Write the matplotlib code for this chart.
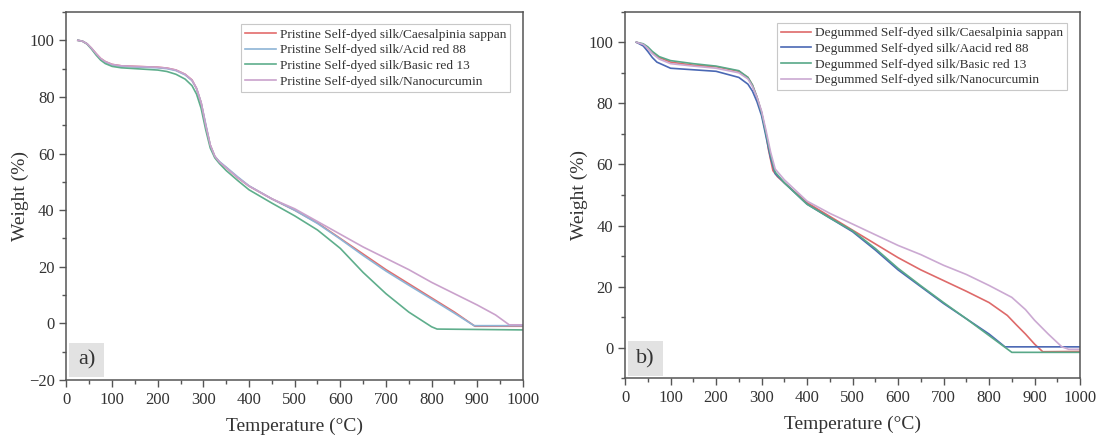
import matplotlib

matplotlib.use("Agg")
import matplotlib.pyplot as plt
from matplotlib.patches import Rectangle
from matplotlib.ticker import MultipleLocator

plt.rcParams["font.family"] = ["Liberation Serif", "DejaVu Serif"]

# ---- panel a) pristine self-dyed silk ----
a_labels = [
    "Pristine Self-dyed silk/Caesalpinia sappan",
    "Pristine Self-dyed silk/Acid red 88",
    "Pristine Self-dyed silk/Basic red 13",
    "Pristine Self-dyed silk/Nanocurcumin",
]
a_colors = ["#e36c6c", "#8db4d6", "#5fae8c", "#caa2cc"]

a_sappan_t = [25, 35, 45, 55, 65, 75, 85, 100, 120, 150, 200, 220, 240, 260, 275, 285, 295, 305, 315, 325, 335,
              350, 375, 400, 450, 500, 550, 600, 650, 700, 750, 800, 850, 895, 1000]
a_sappan_w = [100, 99.7, 98.8, 97.2, 95.3, 93.6, 92.5, 91.5, 91, 90.8, 90.5, 90.2, 89.5, 88, 86, 83, 78, 70, 63,
              59, 57, 55, 51.5, 48.5, 44, 40, 35.5, 30, 24.5, 19, 14, 9, 4, -1, -1]

a_acid_t = [25, 35, 45, 55, 65, 75, 85, 100, 120, 150, 200, 220, 240, 260, 275, 285, 295, 305, 315, 325, 335,
            350, 375, 400, 450, 500, 550, 600, 650, 700, 750, 800, 850, 893, 1000]
a_acid_w = [100, 99.7, 98.8, 97.1, 95.1, 93.4, 92.2, 91.3, 90.8, 90.6, 90.3, 90, 89.3, 87.8, 85.8, 83, 78, 70.5,
            63, 59, 57.2, 55.2, 51.8, 48.6, 44, 40, 35.3, 29.8, 24, 18.5, 13.5, 8.6, 3.6, -0.8, -0.8]

a_basic_t = [25, 35, 45, 55, 65, 75, 85, 100, 120, 150, 200, 220, 240, 260, 275, 285, 295, 305, 315, 325, 335,
             350, 375, 400, 450, 500, 550, 600, 650, 700, 750, 800, 812, 1000]
a_basic_w = [100, 99.7, 98.7, 96.9, 94.8, 93, 91.8, 90.8, 90.3, 90, 89.5, 89, 88, 86.3, 84, 81, 76, 68.5, 62,
             58.5, 56.5, 54, 50.5, 47.2, 42.5, 38, 33, 26.5, 18, 10.5, 4, -1.2, -2, -2.3]

a_nano_t = [25, 35, 45, 55, 65, 75, 85, 100, 120, 150, 200, 220, 240, 260, 275, 285, 295, 305, 315, 325, 335,
            350, 375, 400, 450, 500, 550, 600, 650, 700, 750, 800, 850, 900, 940, 970, 1000]
a_nano_w = [100, 99.7, 98.8, 97.2, 95.3, 93.6, 92.5, 91.5, 91, 90.8, 90.5, 90.2, 89.5, 88, 86, 83, 78, 70, 63,
            59, 57, 55, 51.5, 48.5, 44, 40.5, 36, 31.5, 27, 23, 19, 14.5, 10.5, 6.5, 3, -0.5, -0.5]

# ---- panel b) degummed self-dyed silk ----
b_labels = [
    "Degummed Self-dyed silk/Caesalpinia sappan",
    "Degummed Self-dyed silk/Aacid red 88",
    "Degummed Self-dyed silk/Basic red 13",
    "Degummed Self-dyed silk/Nanocurcumin",
]
b_colors = ["#de6a6a", "#4a68b4", "#58a888", "#cba9d2"]

b_sappan_t = [25, 40, 50, 60, 75, 100, 150, 200, 250, 270, 280, 290, 300, 310, 315, 325, 335, 350, 400, 450, 500,
              550, 600, 650, 700, 750, 800, 840, 860, 880, 900, 918, 1000]
b_sappan_w = [100, 99.3, 98, 96.5, 95, 93.5, 92.5, 92, 90.5, 88.5, 86, 82, 77, 70, 65, 58, 56, 54, 47.5, 43, 38.5,
              34, 29.5, 25.5, 22, 18.5, 14.8, 10.6, 7.5, 4.5, 1.2, -1.3, -1.2]

b_acid_t = [25, 40, 50, 60, 70, 100, 150, 200, 250, 270, 280, 290, 300, 310, 320, 330, 350, 400, 450, 500,
            550, 600, 650, 700, 750, 800, 835, 1000]
b_acid_w = [100, 98.8, 97, 95, 93.5, 91.5, 91, 90.5, 88.5, 86.3, 84, 80.5, 76, 69, 62, 57, 54, 47, 42.5, 38,
            32, 25.5, 20, 14.5, 9.5, 4.5, 0.3, 0.3]

b_basic_t = [25, 40, 50, 60, 75, 100, 150, 200, 250, 270, 280, 290, 300, 310, 320, 330, 350, 400, 450, 500,
             550, 600, 650, 700, 750, 800, 850, 1000]
b_basic_w = [100, 99.5, 98.5, 97, 95.3, 94, 93, 92.2, 90.7, 88.5, 86, 82, 77, 70, 63, 57.5, 54, 47, 42.5, 38.3,
             32.5, 26, 20.3, 14.8, 9.5, 4, -1.5, -1.5]

b_nano_t = [25, 40, 50, 60, 75, 100, 150, 200, 250, 270, 280, 290, 300, 310, 320, 330, 350, 400, 450, 500,
            550, 600, 650, 700, 750, 800, 850, 880, 900, 930, 960, 975, 1000]
b_nano_w = [100, 99.3, 98, 96.3, 94.5, 93, 92.2, 91.5, 90, 88, 85.5, 82, 77.5, 71, 64, 58.5, 55, 48, 44, 40.5,
            37, 33.5, 30.5, 27, 24, 20.4, 16.5, 12.5, 9, 4.5, 0.3, -0.5, -0.5]


def style_axes(ax, ylim, yminor):
    ax.set_xlim(0, 1000)
    ax.set_ylim(*ylim)
    ax.xaxis.set_major_locator(MultipleLocator(100))
    ax.xaxis.set_minor_locator(MultipleLocator(50))
    ax.yaxis.set_major_locator(MultipleLocator(20))
    ax.yaxis.set_minor_locator(MultipleLocator(yminor))
    for spine in ax.spines.values():
        spine.set_color("#555555")
        spine.set_linewidth(1.1)
    ax.tick_params(which="both", direction="out", color="#555555", labelcolor="#333333",
                   labelsize=12, top=False, right=False)
    ax.tick_params(which="major", length=5, width=1)
    ax.tick_params(which="minor", length=3, width=1)
    ax.set_xlabel("Temperature (°C)", fontsize=14, color="#333333", labelpad=7)
    ax.set_ylabel("Weight (%)", fontsize=14, color="#333333", labelpad=0)


def panel_tag(ax, text, x0, x1, y0, y1):
    ax.add_patch(Rectangle((x0, y0), x1 - x0, y1 - y0, transform=ax.transAxes,
                           facecolor="#e2e2e2", edgecolor="none", zorder=1))
    ax.text((x0 + x1) / 2, (y0 + y1) / 2, text, transform=ax.transAxes, ha="center", va="center",
            fontsize=16, color="#333333", zorder=2)


fig = plt.figure(figsize=(11.02, 4.36), dpi=100)
ax_a = fig.add_axes([0.0603, 0.1284, 0.4142, 0.844])
ax_b = fig.add_axes([0.5672, 0.1323, 0.4129, 0.8408])

a_series = [(a_sappan_t, a_sappan_w), (a_acid_t, a_acid_w), (a_basic_t, a_basic_w), (a_nano_t, a_nano_w)]
for (t, w), color, label in zip(a_series, a_colors, a_labels):
    ax_a.plot(t, w, color=color, lw=1.2, label=label)

b_series = [(b_sappan_t, b_sappan_w), (b_acid_t, b_acid_w), (b_basic_t, b_basic_w), (b_nano_t, b_nano_w)]
for (t, w), color, label in zip(b_series, b_colors, b_labels):
    ax_b.plot(t, w, color=color, lw=1.2, label=label)

style_axes(ax_a, (-20, 110), 10)
style_axes(ax_b, (-10, 110), 10)

legend_kw = dict(loc="upper right", fontsize=9.6, frameon=True, fancybox=False, framealpha=1,
                 edgecolor="#c8c8c8", handlelength=2.3, handletextpad=0.3, labelspacing=0.25,
                 borderpad=0.3, borderaxespad=0)
leg_a = ax_a.legend(bbox_to_anchor=(0.972, 0.967), **legend_kw)
leg_b = ax_b.legend(bbox_to_anchor=(0.972, 0.969), **legend_kw)
for leg in (leg_a, leg_b):
    leg.get_frame().set_linewidth(0.8)
    for txt in leg.get_texts():
        txt.set_color("#333333")

panel_tag(ax_a, "a)", 0.0055, 0.0822, 0.009, 0.1014)
panel_tag(ax_b, "b)", 0.0066, 0.0835, 0.0063, 0.1018)

fig.savefig("out.png", dpi=100)
